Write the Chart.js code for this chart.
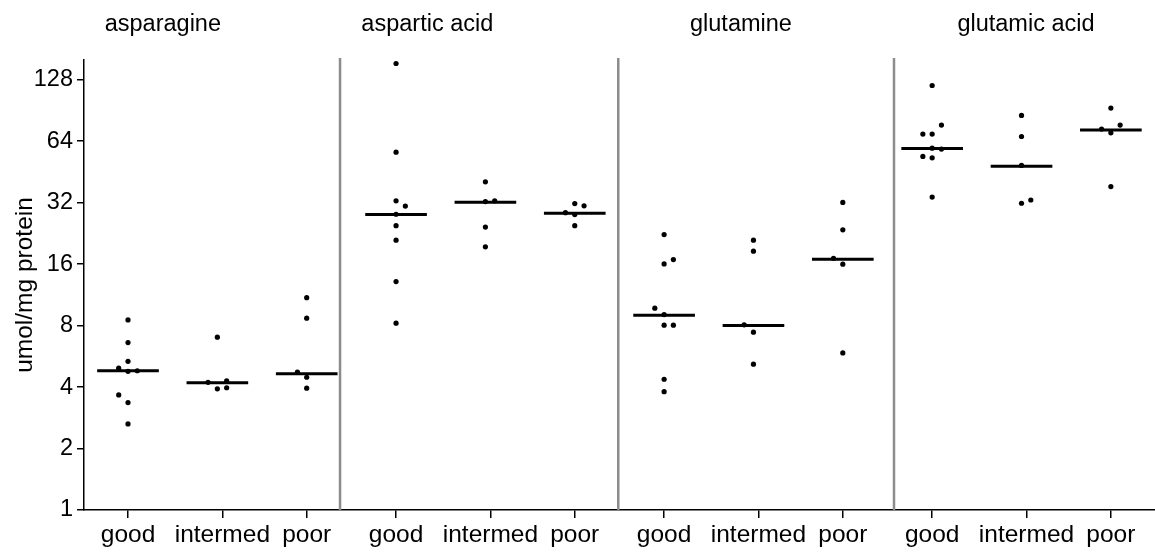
<!DOCTYPE html>
<html><head><meta charset="utf-8">
<script src="https://cdn.jsdelivr.net/npm/chart.js@4"></script>
<style>html,body{margin:0;padding:0;background:#fff}#wrap{width:1155px;height:552px}</style>
</head><body><div id="wrap"><canvas id="c" width="1155" height="552"></canvas></div>
<script>
const analytes = ['asparagine', 'aspartic acid', 'glutamine', 'glutamic acid'];
const categories = ['good', 'intermed', 'poor'];
const yTicks = [1, 2, 4, 8, 16, 32, 64, 128];
const yTitle = 'umol/mg protein';

// values per category (good, intermed, poor)
const asparagine = [
  [8.53, 6.61, 5.35, 4.95, 4.78, 4.81, 3.66, 3.36, 2.64],
  [7.02, 4.22, 4.29, 3.92, 3.97],
  [10.97, 8.7, 4.73, 4.47, 3.95]
];
const asparticAcid = [
  [153.8, 56.6, 32.7, 30.8, 28.1, 24.7, 20.97, 13.15, 8.22],
  [40.5, 32.4, 32.7, 24.3, 19.45],
  [31.7, 30.9, 28.6, 28.0, 24.7]
];
const glutamine = [
  [22.35, 16.05, 16.85, 9.74, 9.06, 8.04, 8.04, 4.37, 3.8],
  [20.97, 18.52, 8.07, 7.43, 5.18],
  [32.1, 23.56, 17.1, 16.0, 5.88]
];
const glutamicAcid = [
  [120, 76.8, 69.4, 69.4, 59.2, 58.6, 53.9, 53.1, 34.1],
  [85.6, 67.5, 48.7, 31.8, 33.0],
  [93.0, 76.8, 73.4, 70.4, 38.4]
];

// jitter slot of each dot (-1 left, 0 centre, 1 right)
const asparagineSlots = [[0, 0, 0, -1, 0, 1, -1, 0, 0], [0, -1, 1, 0, 1], [0, 0, -1, 0, 0]];
const asparticAcidSlots = [[0, 0, 0, 1, 0, 0, 0, 0, 0], [0, 0, 1, 0, 0], [0, 1, -1, 0, 0]];
const glutamineSlots = [[0, 0, 1, -1, 0, 0, 1, 0, 0], [0, 0, -1, 0, 0], [0, 0, -1, 0, 0]];
const glutamicAcidSlots = [[0, 1, -1, 0, 0, 1, -1, 0, 0], [0, 0, 0, 0, 1], [0, 1, -1, 0, 0]];

// medians (horizontal bars)
const asparagineMedian = [4.81, 4.2, 4.65];
const asparticAcidMedian = [28.0, 32.2, 28.4];
const glutamineMedian = [9.0, 8.0, 16.9];
const glutamicAcidMedian = [59.0, 48.3, 72.6];

const groups = [asparagine, asparticAcid, glutamine, glutamicAcid];
const slots = [asparagineSlots, asparticAcidSlots, glutamineSlots, glutamicAcidSlots];
const medians = [asparagineMedian, asparticAcidMedian, glutamineMedian, glutamicAcidMedian];

// layout (x in category units)
const JITTER = 0.104, HALF_BAR = 0.345;
const separatorsAt = [2.373, 5.487, 8.573];
const titlesAt = [0.39, 3.35, 6.86, 10.05];
const tickShift = [0, 0.056, 0];

const dots = [], medianLine = [];
groups.forEach((g, a) => {
  g.forEach((vals, c) => {
    const pos = a * categories.length + c;
    vals.forEach((v, k) => dots.push({ x: pos + slots[a][c][k] * JITTER, y: v }));
    const m = medians[a][c];
    medianLine.push({ x: pos - HALF_BAR, y: m }, { x: pos + HALF_BAR, y: m }, { x: pos + 0.5, y: null });
  });
});
const xTickValues = [];
for (let i = 0; i < analytes.length * categories.length; i++) xTickValues.push(i + tickShift[i % categories.length]);

const FONT = 'Liberation Sans, Arial, sans-serif';

const decor = {
  id: 'decor',
  beforeDatasetsDraw(chart) {
    const { ctx, chartArea, scales } = chart;
    ctx.save();
    ctx.strokeStyle = '#8c8c8c';
    ctx.lineWidth = 2.5;
    separatorsAt.forEach(s => {
      const px = scales.x.getPixelForValue(s);
      ctx.beginPath();
      ctx.moveTo(px, chartArea.top - 2);
      ctx.lineTo(px, chartArea.bottom);
      ctx.stroke();
    });
    ctx.restore();
  },
  afterDraw(chart) {
    const { ctx, scales } = chart;
    ctx.save();
    ctx.fillStyle = '#000';
    ctx.font = '23.5px ' + FONT;
    ctx.textAlign = 'center';
    ctx.textBaseline = 'alphabetic';
    analytes.forEach((t, i) => ctx.fillText(t, scales.x.getPixelForValue(titlesAt[i]), 31));
    ctx.restore();
  }
};

new Chart(document.getElementById('c'), {
  type: 'scatter',
  data: {
    datasets: [
      { type: 'scatter', data: dots, pointRadius: 2.6, pointBackgroundColor: '#000', pointBorderWidth: 0, showLine: false },
      { type: 'line', data: medianLine, borderColor: '#000', borderWidth: 3, pointRadius: 0, spanGaps: false, fill: false, borderCapStyle: 'butt' }
    ]
  },
  options: {
    responsive: false,
    devicePixelRatio: 1,
    animation: false,
    layout: { autoPadding: false, padding: { top: 60, right: 0, left: 0, bottom: 0 } },
    plugins: { legend: { display: false }, tooltip: { enabled: false } },
    scales: {
      x: {
        type: 'linear',
        min: -0.4925,
        max: 11.494,
        afterBuildTicks: s => { s.ticks = xTickValues.map(v => ({ value: v })); },
        afterFit: s => { s.height = 42; },
        ticks: {
          autoSkip: false, maxRotation: 0, padding: 3, color: '#000',
          font: { family: FONT, size: 24.5 },
          callback: v => categories[Math.round(v) % categories.length]
        },
        grid: { drawOnChartArea: false, drawTicks: true, tickLength: 8, color: '#000', tickColor: '#000', lineWidth: 1.5 },
        border: { display: true, color: '#000', width: 1.5 }
      },
      y: {
        type: 'logarithmic',
        min: 1,
        max: 160,
        afterBuildTicks: s => { s.ticks = yTicks.map(v => ({ value: v })); },
        afterFit: s => { s.width = 84; },
        ticks: {
          padding: 4, color: '#000',
          font: { family: FONT, size: 23.5 },
          callback: v => String(v)
        },
        grid: { drawOnChartArea: false, drawTicks: true, tickLength: 7, color: '#000', tickColor: '#000', lineWidth: 1.5 },
        border: { display: true, color: '#000', width: 1.5 },
        title: { display: true, text: yTitle, color: '#000', font: { family: FONT, size: 24.5 }, padding: { top: 11, bottom: 0 } }
      }
    }
  },
  plugins: [decor]
});
</script>
</body></html>
